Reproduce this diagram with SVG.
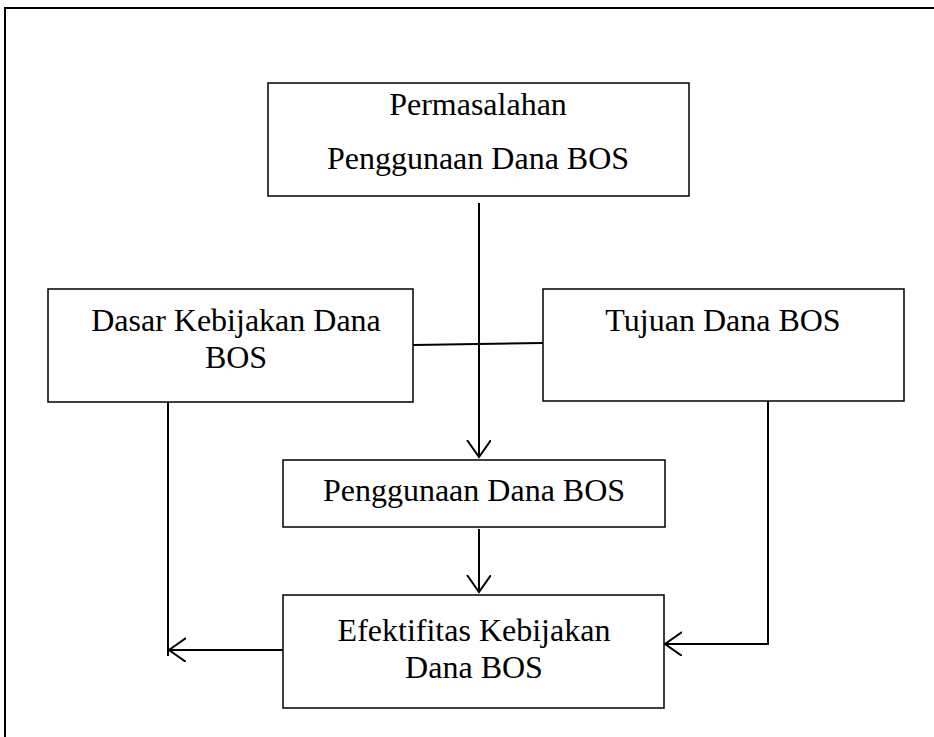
<svg xmlns="http://www.w3.org/2000/svg" width="934" height="737" viewBox="0 0 934 737">
<style>
.box{fill:#fff;stroke:#000;stroke-width:1.5}
.t{font-family:"Liberation Serif","Times New Roman",serif;font-size:32px;fill:#000;text-anchor:middle}
.c{fill:none;stroke:#000;stroke-width:2}
.frame{fill:none;stroke:#000;stroke-width:2}
</style>
<defs>
<marker id="ah" markerUnits="userSpaceOnUse" markerWidth="30" markerHeight="30" refX="17" refY="12" orient="auto">
<path d="M0,0 L17,12 L0,24" fill="none" stroke="#000" stroke-width="2"/>
</marker>
</defs>
<path class="frame" d="M5,737 L5,8 L934,8"/>
<g id="n1"><rect class="box" x="268" y="83" width="421" height="113"/>
<text class="t" x="478" y="115">Permasalahan</text>
<text class="t" x="478" y="169">Penggunaan Dana BOS</text></g>
<g id="n2"><rect class="box" x="48" y="289" width="365" height="113"/>
<text class="t" x="236" y="331">Dasar Kebijakan Dana</text>
<text class="t" x="236" y="368">BOS</text></g>
<g id="n3"><rect class="box" x="543" y="289" width="361" height="112"/>
<text class="t" x="723" y="331">Tujuan Dana BOS</text></g>
<g id="n4"><rect class="box" x="283" y="460" width="382" height="67"/>
<text class="t" x="474" y="501">Penggunaan Dana BOS</text></g>
<g id="n5"><rect class="box" x="283" y="595" width="381" height="113"/>
<text class="t" x="474" y="641">Efektifitas Kebijakan</text>
<text class="t" x="474" y="678">Dana BOS</text></g>
<g id="connectors">
<path class="c" d="M479,203 L479,457" marker-end="url(#ah)"/>
<path class="c" d="M413,345 L543,343"/>
<path class="c" d="M479,529 L479,592" marker-end="url(#ah)"/>
<path class="c" d="M168,402 L168,656"/>
<path class="c" d="M283,650 L169,650" marker-end="url(#ah)"/>
<path class="c" d="M768,401 L768,644 L665,644" marker-end="url(#ah)"/>
</g>
</svg>
